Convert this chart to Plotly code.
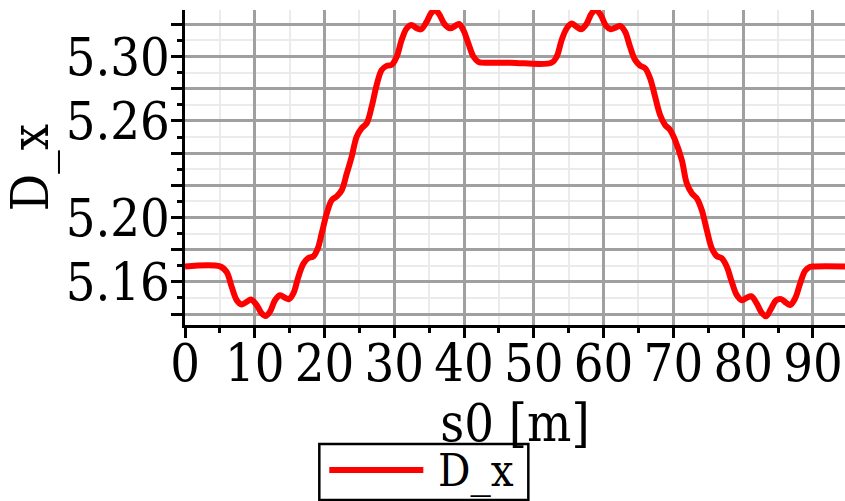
import plotly.graph_objects as go

# s0 [m] positions
s0 = [0.0, 5.02, 5.97, 6.69, 7.41, 8.12, 8.84, 9.46, 10.27, 10.99, 11.57, 12.19, 12.9,
      13.62, 14.34, 14.91, 15.53, 16.25, 16.97, 17.68, 18.4, 19.02, 19.59, 20.31, 21.03,
      21.74, 22.46, 23.18, 23.9, 24.61, 25.33, 26.05, 26.76, 27.48, 28.2, 28.91, 29.63,
      30.35, 31.06, 31.78, 32.5, 33.21, 33.84, 34.65, 35.27, 35.84, 36.42, 37.18, 37.99,
      38.71, 39.28, 39.9, 40.62, 41.34, 42.06, 42.53, 46.6, 52.56, 53.28, 54.0, 54.71,
      55.43, 56.15, 56.77, 57.58, 58.3, 58.92, 59.59, 60.35, 61.02, 61.79, 62.36, 63.08,
      63.79, 64.51, 65.23, 65.95, 66.66, 67.38, 68.1, 68.81, 69.53, 70.3, 71.21, 71.92,
      72.64, 73.36, 74.07, 74.79, 75.51, 76.22, 76.94, 77.66, 78.37, 79.09, 79.81, 80.52,
      81.15, 81.96, 82.68, 83.3, 84.01, 84.73, 85.45, 86.16, 86.74, 87.45, 88.17, 88.89,
      89.61, 90.32, 94.6]

# D_x values
d_x = [5.1696, 5.1696, 5.1661, 5.1569, 5.1486, 5.1460, 5.1476, 5.1490, 5.1456, 5.1404,
       5.1388, 5.1415, 5.1486, 5.1517, 5.1501, 5.1493, 5.1528, 5.1631, 5.1713, 5.1748,
       5.1758, 5.1806, 5.1900, 5.2024, 5.2107, 5.2131, 5.2169, 5.2272, 5.2379, 5.2503,
       5.2555, 5.2586, 5.2689, 5.2824, 5.2917, 5.2942, 5.2948, 5.3000, 5.3104, 5.3175,
       5.3196, 5.3175, 5.3169, 5.3217, 5.3269, 5.3287, 5.3264, 5.3202, 5.3175, 5.3190,
       5.3202, 5.3164, 5.3081, 5.3000, 5.2966, 5.2962, 5.2962, 5.2962, 5.3000, 5.3104,
       5.3175, 5.3205, 5.3184, 5.3169, 5.3205, 5.3269, 5.3287, 5.3258, 5.3190, 5.3169,
       5.3181, 5.3190, 5.3154, 5.3060, 5.2979, 5.2944, 5.2927, 5.2865, 5.2751, 5.2637,
       5.2575, 5.2544, 5.2475, 5.2357, 5.2212, 5.2150, 5.2119, 5.2046, 5.1922, 5.1808,
       5.1760, 5.1746, 5.1694, 5.1600, 5.1517, 5.1486, 5.1501, 5.1511, 5.1465, 5.1407,
       5.1386, 5.1434, 5.1486, 5.1493, 5.1470, 5.1456, 5.1497, 5.1590, 5.1669, 5.1694,
       5.1696, 5.1696]

y_tickvals = [5.14, 5.16, 5.18, 5.20, 5.22, 5.24, 5.26, 5.28, 5.30, 5.32]
y_ticktext = ["", "5.16", "", "5.20", "", "", "5.26", "", "5.30", ""]
x_tickvals = [0, 10, 20, 30, 40, 50, 60, 70, 80, 90]
x_ticktext = ["0", "10", "20", "30", "40", "50", "60", "70", "80", "90"]

FONT = "DejaVu Serif Condensed, DejaVu Serif, serif"
MAJOR_GRID = "#a0a0a0"
MINOR_GRID = "#ebebeb"

fig = go.Figure()
fig.add_trace(go.Scatter(
    x=s0, y=d_x, mode="lines", name="D_x",
    line=dict(color="#ff0000", width=6, shape="spline", smoothing=1.0),
    showlegend=False, cliponaxis=True,
))

fig.update_layout(
    width=845, height=501,
    margin=dict(l=185, r=0, t=10, b=176, autoexpand=False),
    paper_bgcolor="white", plot_bgcolor="white",
    font=dict(family=FONT, size=52, color="black"),
    showlegend=False,
    xaxis=dict(
        range=[0, 94.6], automargin=False,
        tickmode="array", tickvals=x_tickvals, ticktext=x_ticktext,
        ticks="outside", ticklen=10, tickwidth=2.5, tickcolor="black",
        showline=True, linecolor="black", linewidth=2.5,
        showgrid=True, gridcolor=MAJOR_GRID, gridwidth=2.5,
        zeroline=False, ticklabelstandoff=-19,
        tickfont=dict(family=FONT, size=52),
        minor=dict(tickmode="linear", tick0=5, dtick=10, ticks="outside", ticklen=5,
                   tickwidth=2.5, tickcolor="black", showgrid=True,
                   gridcolor=MINOR_GRID, gridwidth=2.3),
        title=dict(text="s0 [m]", font=dict(family=FONT, size=52), standoff=0),
    ),
    yaxis=dict(
        range=[5.1332, 5.3289], automargin=False,
        tickmode="array", tickvals=y_tickvals, ticktext=y_ticktext,
        ticks="outside", ticklen=11, tickwidth=2.5, tickcolor="black",
        showline=True, linecolor="black", linewidth=2.5,
        showgrid=True, gridcolor=MAJOR_GRID, gridwidth=2.5,
        zeroline=False, ticklabelstandoff=-9,
        tickfont=dict(family=FONT, size=52),
        minor=dict(tickmode="linear", tick0=5.13, dtick=0.02, ticks="outside", ticklen=5,
                   tickwidth=2.5, tickcolor="black", showgrid=True,
                   gridcolor=MINOR_GRID, gridwidth=2.3),
        title=dict(text="D_x", font=dict(family=FONT, size=52), standoff=12),
    ),
)

# legend drawn as a framed key below the axis title
fig.add_shape(type="rect", xref="paper", yref="paper",
              x0=0.2035, x1=0.5202, y0=-0.5556, y1=-0.3778,
              line=dict(color="black", width=2.5), fillcolor="white", layer="above")
fig.add_shape(type="line", xref="paper", yref="paper",
              x0=0.2186, x1=0.3611, y0=-0.4603, y1=-0.4603,
              line=dict(color="#ff0000", width=6), layer="above")
fig.add_annotation(xref="paper", yref="paper", x=0.3803, y=-0.461,
                   text="D_x", showarrow=False, xanchor="left", yanchor="middle",
                   font=dict(family=FONT, size=45, color="black"))

fig.write_html("out.html", config={"displayModeBar": False},
               post_script="document.body.style.margin='0px';")
